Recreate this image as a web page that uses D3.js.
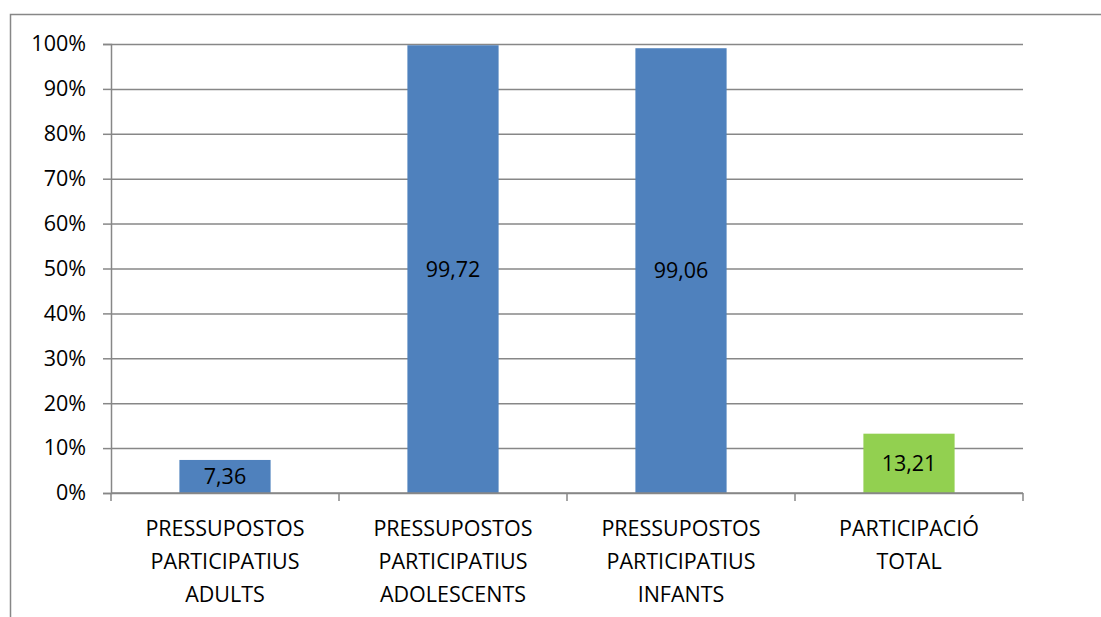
<!DOCTYPE html>
<html>
<head>
<meta charset="utf-8">
<script src="https://cdn.jsdelivr.net/npm/d3@7"></script>
<style>
  body { margin: 0; background: #fff; }
  svg { display: block; font-family: "Open Sans", "Noto Sans", sans-serif; }
</style>
</head>
<body>
<svg id="chart" width="1101" height="617"></svg>
<script>
const categories = [
  ["PRESSUPOSTOS", "PARTICIPATIUS", "ADULTS"],
  ["PRESSUPOSTOS", "PARTICIPATIUS", "ADOLESCENTS"],
  ["PRESSUPOSTOS", "PARTICIPATIUS", "INFANTS"],
  ["PARTICIPACIÓ", "TOTAL"]
];
const values = [7.36, 99.72, 99.06, 13.21];
const barColors = ["#4f81bd", "#4f81bd", "#4f81bd", "#92d050"];
const yTicks = [0, 10, 20, 30, 40, 50, 60, 70, 80, 90, 100];

const margin = { top: 44, left: 111, right: 78, bottom: 124 };
const width = 1101, height = 617;
const gridColor = "#878787";
const fontSize = "21.5px";

const svg = d3.select("#chart");

// outer chart border (only top and left visible)
svg.append("rect")
  .attr("x", 10.5).attr("y", 14.5)
  .attr("width", 1100).attr("height", 620)
  .attr("fill", "none")
  .attr("stroke", gridColor)
  .attr("stroke-width", 1.5);

const xScale = d3.scaleBand()
  .domain(d3.range(values.length))
  .range([margin.left, width - margin.right])
  .paddingInner(0.6)
  .paddingOuter(0.3);

const yScale = d3.scaleLinear()
  .domain([0, 100])
  .range([height - margin.bottom, margin.top]);

// gridlines + y axis
const yAxis = svg.append("g")
  .attr("transform", `translate(${margin.left},0)`)
  .call(d3.axisLeft(yScale)
    .tickValues(yTicks)
    .tickFormat(d => d + "%")
    .tickSize(8)
    .tickPadding(17))
  .attr("font-family", null)
  .attr("font-size", null);
yAxis.select(".domain").attr("stroke", gridColor).attr("stroke-width", 1.5);
yAxis.selectAll(".tick line").attr("stroke", gridColor).attr("stroke-width", 1.5);
yAxis.selectAll(".tick text")
  .style("font-size", fontSize)
  .attr("fill", "#000");
yAxis.selectAll(".tick")
  .append("line")
    .attr("x1", 0)
    .attr("x2", width - margin.right - margin.left)
    .attr("stroke", gridColor)
    .attr("stroke-width", 1.5);

// bars
svg.append("g")
  .selectAll("rect")
  .data(values)
  .join("rect")
    .attr("x", (d, i) => xScale(i))
    .attr("y", d => yScale(d))
    .attr("width", xScale.bandwidth())
    .attr("height", d => yScale(0) - yScale(d))
    .attr("fill", (d, i) => barColors[i]);

// value labels, centred in bars
svg.append("g")
  .selectAll("text")
  .data(values)
  .join("text")
    .attr("x", (d, i) => xScale(i) + xScale.bandwidth() / 2)
    .attr("y", d => (yScale(d) + yScale(0)) / 2)
    .attr("dy", "0.35em")
    .attr("text-anchor", "middle")
    .style("font-size", fontSize)
    .attr("fill", "#000")
    .text(d => d3.format(".2f")(d).replace(".", ","));

// x axis
const step = (width - margin.right - margin.left) / values.length;
const xAxisG = svg.append("g")
  .attr("transform", `translate(0,${height - margin.bottom})`);
xAxisG.append("line")
  .attr("x1", margin.left).attr("x2", width - margin.right)
  .attr("stroke", gridColor).attr("stroke-width", 1.5);
xAxisG.selectAll(".xtick")
  .data(d3.range(values.length + 1))
  .join("line")
    .attr("class", "xtick")
    .attr("x1", i => margin.left + i * step)
    .attr("x2", i => margin.left + i * step)
    .attr("y1", 0).attr("y2", 8)
    .attr("stroke", gridColor).attr("stroke-width", 1.5);

const labels = xAxisG.selectAll(".xlabel")
  .data(categories)
  .join("text")
    .attr("class", "xlabel")
    .attr("text-anchor", "middle")
    .style("font-size", fontSize)
    .attr("fill", "#000");
labels.each(function(lines, i) {
  const cx = xScale(i) + xScale.bandwidth() / 2;
  lines.forEach((ln, j) => {
    d3.select(this).append("tspan")
      .attr("x", cx)
      .attr("y", 43 + j * 33)
      .text(ln);
  });
});
</script>
</body>
</html>
